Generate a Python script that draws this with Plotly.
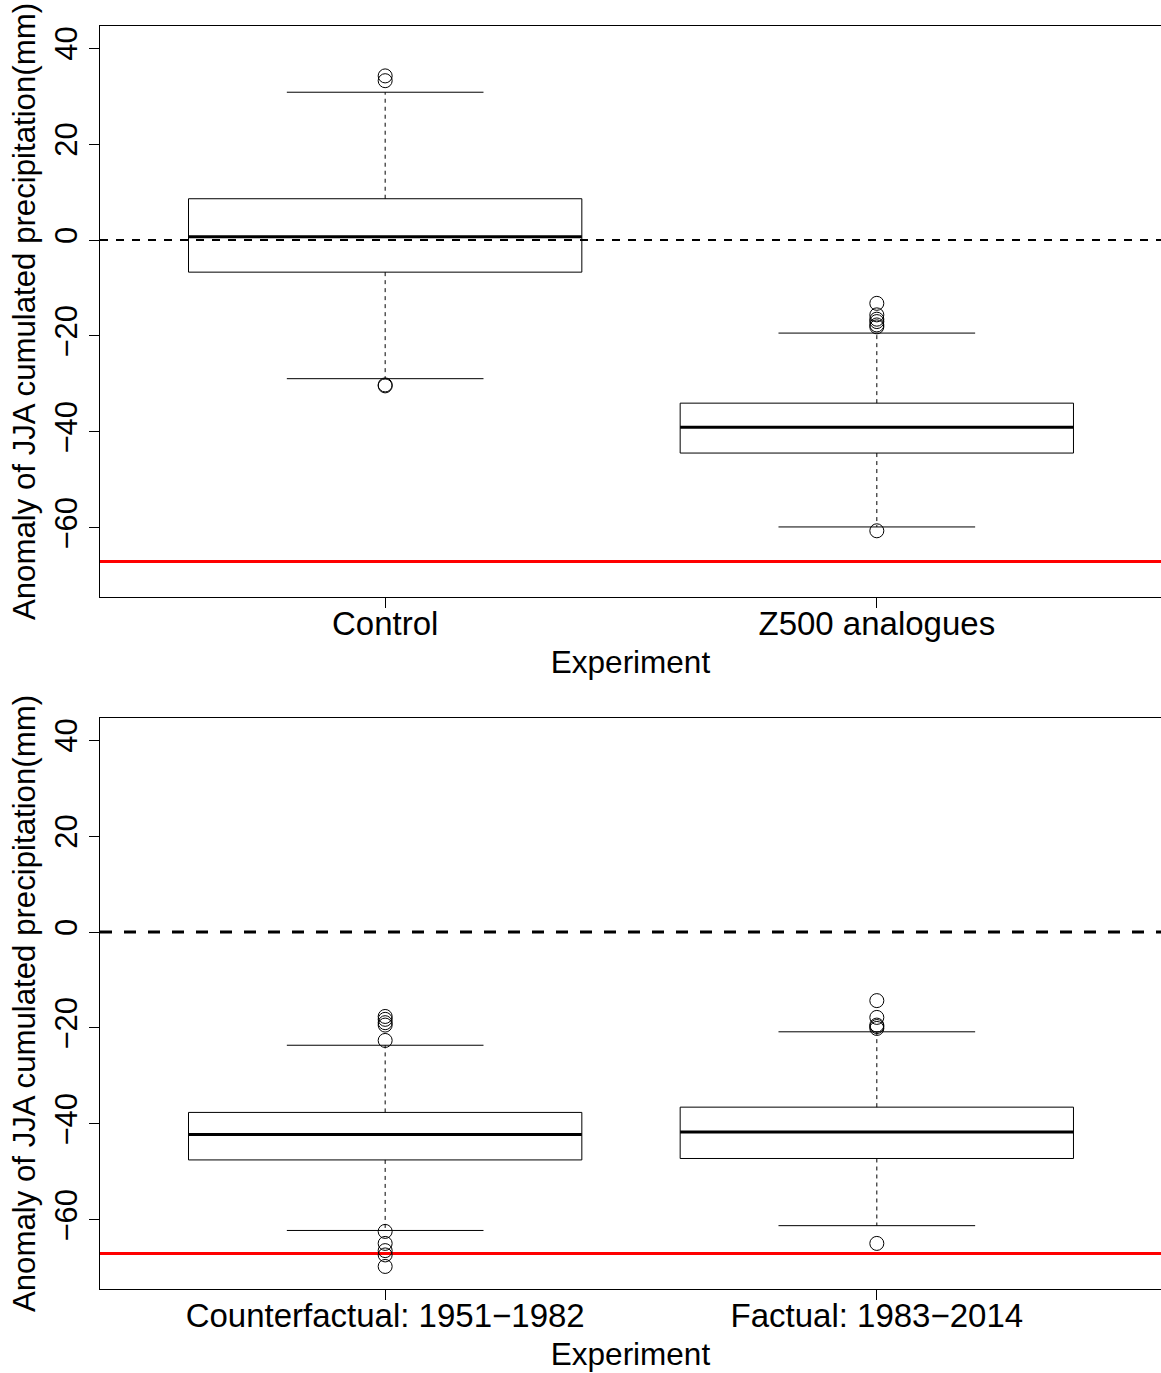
import plotly.graph_objects as go
from plotly.subplots import make_subplots

# ---------------- data ----------------
top_categories = ["Control", "Z500 analogues"]
top_q1 = [-6.7, -44.4]
top_median = [0.7, -39.0]
top_q3 = [8.6, -34.0]
top_lower = [-28.9, -59.8]
top_upper = [30.8, -19.4]
top_outliers = [
    [34.2, 33.2, -30.2, -30.4],
    [-13.2, -15.6, -16.5, -17.0, -17.7, -18.1, -60.6],
]

bot_categories = ["Counterfactual: 1951\u22121982", "Factual: 1983\u22122014"]
bot_q1 = [-47.5, -47.2]
bot_median = [-42.2, -41.7]
bot_q3 = [-37.6, -36.5]
bot_lower = [-62.2, -61.2]
bot_upper = [-23.6, -20.8]
bot_outliers = [
    [-17.6, -18.2, -18.9, -19.4, -22.6, -62.4, -64.9, -66.4, -67.3, -69.7],
    [-14.3, -17.8, -19.4, -19.7, -20.1, -64.9],
]

observed = -67.0
y_ticks = [-60, -40, -20, 0, 20, 40]
y_ticktext = ["\u221260", "\u221240", "\u221220", "0", "20", "40"]
y_range = [-74.4, 44.6]
x_range = [0.42, 2.578]

FONT = "Liberation Sans, Arial, Helvetica, sans-serif"
BOX_HALF = 0.4
CAP_HALF = 0.2

fig = make_subplots(rows=2, cols=1, vertical_spacing=0.0958)


def add_panel(row, cats, q1, med, q3, lo, hi, outs, zero_width, zero_dash):
    fig.add_trace(go.Scatter(x=x_range, y=[0, 0], mode="lines",
                             line=dict(color="black", width=zero_width, dash=zero_dash),
                             hoverinfo="skip", showlegend=False), row=row, col=1)
    fig.add_trace(go.Scatter(x=x_range, y=[observed, observed], mode="lines",
                             line=dict(color="#ff0000", width=3),
                             hoverinfo="skip", showlegend=False), row=row, col=1)
    for i in range(len(cats)):
        xc = i + 1
        fig.add_trace(go.Scatter(x=[xc, xc, None, xc, xc],
                                 y=[q3[i], hi[i], None, q1[i], lo[i]], mode="lines",
                                 line=dict(color="black", width=1, dash="4px,4px"),
                                 showlegend=False), row=row, col=1)
        fig.add_trace(go.Scatter(x=[xc - CAP_HALF, xc + CAP_HALF, None, xc - CAP_HALF, xc + CAP_HALF],
                                 y=[hi[i], hi[i], None, lo[i], lo[i]], mode="lines",
                                 line=dict(color="black", width=1),
                                 showlegend=False), row=row, col=1)
        fig.add_trace(go.Scatter(x=[xc - BOX_HALF, xc + BOX_HALF, xc + BOX_HALF, xc - BOX_HALF, xc - BOX_HALF],
                                 y=[q1[i], q1[i], q3[i], q3[i], q1[i]], mode="lines",
                                 line=dict(color="black", width=1),
                                 showlegend=False), row=row, col=1)
        fig.add_trace(go.Scatter(x=[xc - BOX_HALF, xc + BOX_HALF], y=[med[i], med[i]], mode="lines",
                                 line=dict(color="black", width=3),
                                 showlegend=False), row=row, col=1)
        fig.add_trace(go.Scatter(x=[xc] * len(outs[i]), y=outs[i], mode="markers",
                                 marker=dict(symbol="circle-open", size=14,
                                             color="black", line=dict(width=1)),
                                 showlegend=False), row=row, col=1)


add_panel(1, top_categories, top_q1, top_median, top_q3, top_lower, top_upper,
          top_outliers, 2, "8px,8px")
add_panel(2, bot_categories, bot_q1, bot_median, bot_q3, bot_lower, bot_upper,
          bot_outliers, 3, "12px,12px")

xtick_font = dict(family=FONT, size=33, color="black")
ytick_font = dict(family=FONT, size=31, color="black")
xtitle_font = dict(family=FONT, size=31.5, color="black")
ytitle_font = dict(family=FONT, size=31.2, color="black")

for row, cats in [(1, top_categories), (2, bot_categories)]:
    fig.update_xaxes(row=row, col=1, range=x_range, tickvals=[1, 2], ticktext=cats,
                     ticks="outside", ticklen=10, tickcolor="black",
                     ticklabelstandoff=-13,
                     showline=True, linecolor="black", linewidth=1, mirror=True,
                     showgrid=False, zeroline=False, tickfont=xtick_font,
                     automargin=False,
                     title=dict(text="Experiment", font=xtitle_font, standoff=10))
    fig.update_yaxes(row=row, col=1, range=y_range, tickvals=y_ticks,
                     ticktext=y_ticktext,
                     tickangle=-90, ticks="outside", ticklen=10, tickcolor="black",
                     showline=True, linecolor="black", linewidth=1, mirror=True,
                     showgrid=False, zeroline=False, tickfont=ytick_font,
                     automargin=False,
                     title=dict(text="Anomaly of JJA cumulated precipitation(mm)",
                                font=ytitle_font, standoff=3))

fig.update_layout(
    width=1161, height=1373,
    margin=dict(l=100, r=0, t=26, b=84),
    plot_bgcolor="white", paper_bgcolor="white",
    font=dict(family=FONT, color="black"),
    showlegend=False,
)

fig.write_html("out.html",
               config={"displayModeBar": False},
               post_script="document.body.style.margin='0';document.body.style.overflow='hidden';")
